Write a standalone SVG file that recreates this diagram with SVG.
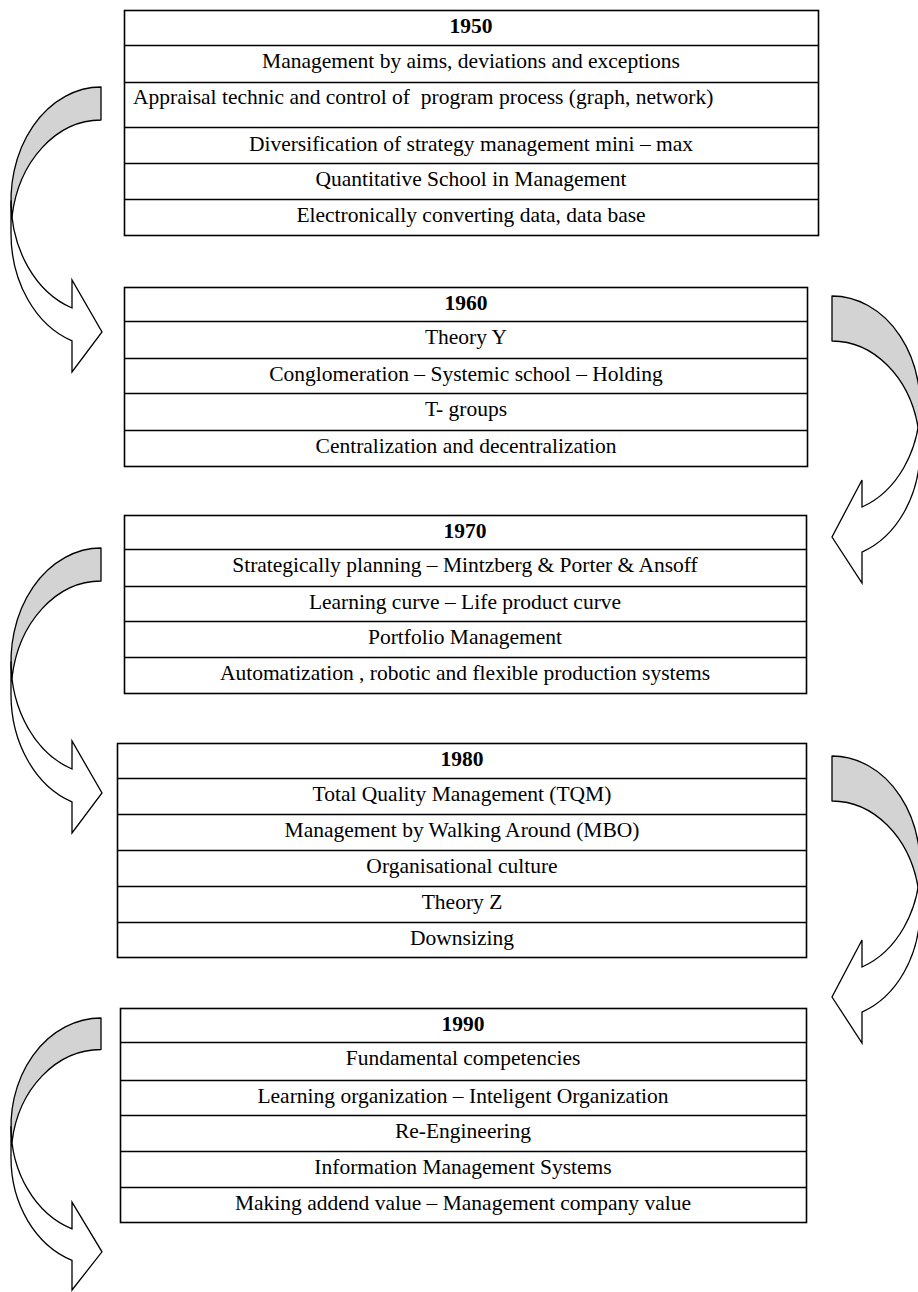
<svg xmlns="http://www.w3.org/2000/svg" width="918" height="1292" viewBox="0 0 918 1292">
  <style>
    .frame { fill: #ffffff; stroke: #000000; stroke-width: 1.6; }
    .rule { stroke: #000000; stroke-width: 1.6; }
    .txt { font-family: "Liberation Serif", "Times New Roman", serif; font-size: 21.5px; fill: #000000; text-anchor: middle; }
    .head { font-weight: bold; }
    .back { fill: #d3d3d3; stroke: #000000; stroke-width: 1.3; stroke-linejoin: round; }
    .front { fill: #ffffff; stroke: #000000; stroke-width: 1.3; stroke-linejoin: miter; }
  </style>
  <rect width="918" height="1292" fill="#ffffff"/>

  <!-- decade 1950 -->
  <g id="decade-1950">
    <rect class="frame" x="124.5" y="10.5" width="694" height="225"/>
    <line class="rule" x1="124.5" y1="45.5" x2="818.5" y2="45.5"/>
    <line class="rule" x1="124.5" y1="82.5" x2="818.5" y2="82.5"/>
    <line class="rule" x1="124.5" y1="127.5" x2="818.5" y2="127.5"/>
    <line class="rule" x1="124.5" y1="163.5" x2="818.5" y2="163.5"/>
    <line class="rule" x1="124.5" y1="199.5" x2="818.5" y2="199.5"/>
    <text class="txt head" x="471" y="33">1950</text>
    <text class="txt" x="471" y="68">Management by aims, deviations and exceptions</text>
    <text class="txt" x="133" y="104" style="text-anchor:start" xml:space="preserve">Appraisal technic and control of  program process (graph, network)</text>
    <text class="txt" x="471" y="151">Diversification of strategy management mini – max</text>
    <text class="txt" x="471" y="186">Quantitative School in Management</text>
    <text class="txt" x="471" y="222">Electronically converting data, data base</text>
  </g>

  <!-- decade 1960 -->
  <g id="decade-1960">
    <rect class="frame" x="124.5" y="287.5" width="683" height="179"/>
    <line class="rule" x1="124.5" y1="321.5" x2="807.5" y2="321.5"/>
    <line class="rule" x1="124.5" y1="358.5" x2="807.5" y2="358.5"/>
    <line class="rule" x1="124.5" y1="393.5" x2="807.5" y2="393.5"/>
    <line class="rule" x1="124.5" y1="430.5" x2="807.5" y2="430.5"/>
    <text class="txt head" x="466" y="310">1960</text>
    <text class="txt" x="466" y="344">Theory Y</text>
    <text class="txt" x="466" y="381">Conglomeration – Systemic school – Holding</text>
    <text class="txt" x="466" y="416">T- groups</text>
    <text class="txt" x="466" y="453">Centralization and decentralization</text>
  </g>

  <!-- decade 1970 -->
  <g id="decade-1970">
    <rect class="frame" x="124.5" y="515.5" width="682" height="178"/>
    <line class="rule" x1="124.5" y1="549.5" x2="806.5" y2="549.5"/>
    <line class="rule" x1="124.5" y1="586.5" x2="806.5" y2="586.5"/>
    <line class="rule" x1="124.5" y1="621.5" x2="806.5" y2="621.5"/>
    <line class="rule" x1="124.5" y1="657.5" x2="806.5" y2="657.5"/>
    <text class="txt head" x="465" y="538">1970</text>
    <text class="txt" x="465" y="572">Strategically planning – Mintzberg &amp; Porter &amp; Ansoff</text>
    <text class="txt" x="465" y="609">Learning curve – Life product curve</text>
    <text class="txt" x="465" y="644">Portfolio Management</text>
    <text class="txt" x="465" y="680">Automatization , robotic and flexible production systems</text>
  </g>

  <!-- decade 1980 -->
  <g id="decade-1980">
    <rect class="frame" x="117.5" y="743.5" width="689" height="214"/>
    <line class="rule" x1="117.5" y1="778.5" x2="806.5" y2="778.5"/>
    <line class="rule" x1="117.5" y1="814.5" x2="806.5" y2="814.5"/>
    <line class="rule" x1="117.5" y1="850.5" x2="806.5" y2="850.5"/>
    <line class="rule" x1="117.5" y1="886.5" x2="806.5" y2="886.5"/>
    <line class="rule" x1="117.5" y1="922.5" x2="806.5" y2="922.5"/>
    <text class="txt head" x="462" y="766">1980</text>
    <text class="txt" x="462" y="801">Total Quality Management (TQM)</text>
    <text class="txt" x="462" y="837">Management by Walking Around (MBO)</text>
    <text class="txt" x="462" y="873">Organisational culture</text>
    <text class="txt" x="462" y="909">Theory Z</text>
    <text class="txt" x="462" y="945">Downsizing</text>
  </g>

  <!-- decade 1990 -->
  <g id="decade-1990">
    <rect class="frame" x="120.5" y="1008.5" width="686" height="214"/>
    <line class="rule" x1="120.5" y1="1042.5" x2="806.5" y2="1042.5"/>
    <line class="rule" x1="120.5" y1="1080.5" x2="806.5" y2="1080.5"/>
    <line class="rule" x1="120.5" y1="1115.5" x2="806.5" y2="1115.5"/>
    <line class="rule" x1="120.5" y1="1151.5" x2="806.5" y2="1151.5"/>
    <line class="rule" x1="120.5" y1="1187.5" x2="806.5" y2="1187.5"/>
    <text class="txt head" x="463" y="1031">1990</text>
    <text class="txt" x="463" y="1065">Fundamental competencies</text>
    <text class="txt" x="463" y="1103">Learning organization – Inteligent Organization</text>
    <text class="txt" x="463" y="1138">Re-Engineering</text>
    <text class="txt" x="463" y="1174">Information Management Systems</text>
    <text class="txt" x="463" y="1210">Making addend value – Management company value</text>
  </g>

  <!-- curved block arrows linking the decades -->
  <g id="connectors">
    <g id="arrow-1950-1960" transform="translate(11,87)">
      <path class="back" d="M90,0 A90,113.5 0 0 0 0.96,130 A90,113.5 0 0 1 90,33 Z"/>
      <path class="front" d="M0,113.5 A90,113.5 0 0 0 61,221 L61,193 L91,245 L61,285 L61,253.9 A90,113.5 0 0 1 0,146.5 Z"/>
    </g>
    <g id="arrow-1960-1970" transform="translate(832,296)">
      <path class="back" d="M0,0 A88,108.8 0 0 1 86.1,131.3 A88,108.8 0 0 0 0,45 Z"/>
      <path class="front" d="M88,108.8 A88,108.8 0 0 1 30,211 L30,184 L0,241 L30,287 L30,256.1 A88,108.8 0 0 0 88,153.8 Z"/>
    </g>
    <g id="arrow-1970-1980" transform="translate(11,548)">
      <path class="back" d="M90,0 A90,113.5 0 0 0 0.96,130 A90,113.5 0 0 1 90,33 Z"/>
      <path class="front" d="M0,113.5 A90,113.5 0 0 0 61,221 L61,193 L91,245 L61,285 L61,253.9 A90,113.5 0 0 1 0,146.5 Z"/>
    </g>
    <g id="arrow-1980-1990" transform="translate(832,756)">
      <path class="back" d="M0,0 A88,108.8 0 0 1 86.1,131.3 A88,108.8 0 0 0 0,45 Z"/>
      <path class="front" d="M88,108.8 A88,108.8 0 0 1 30,211 L30,184 L0,241 L30,287 L30,256.1 A88,108.8 0 0 0 88,153.8 Z"/>
    </g>
    <g id="arrow-1990-next" transform="translate(11,1018)">
      <path class="back" d="M90,0 A90,108.3 0 0 0 0.96,124.05 A90,108.3 0 0 1 90,31.5 Z"/>
      <path class="front" d="M0,108.3 A90,108.3 0 0 0 61,210.9 L61,184.2 L91,233.8 L61,272 L61,242.3 A90,108.3 0 0 1 0,139.8 Z"/>
    </g>
  </g>
</svg>
